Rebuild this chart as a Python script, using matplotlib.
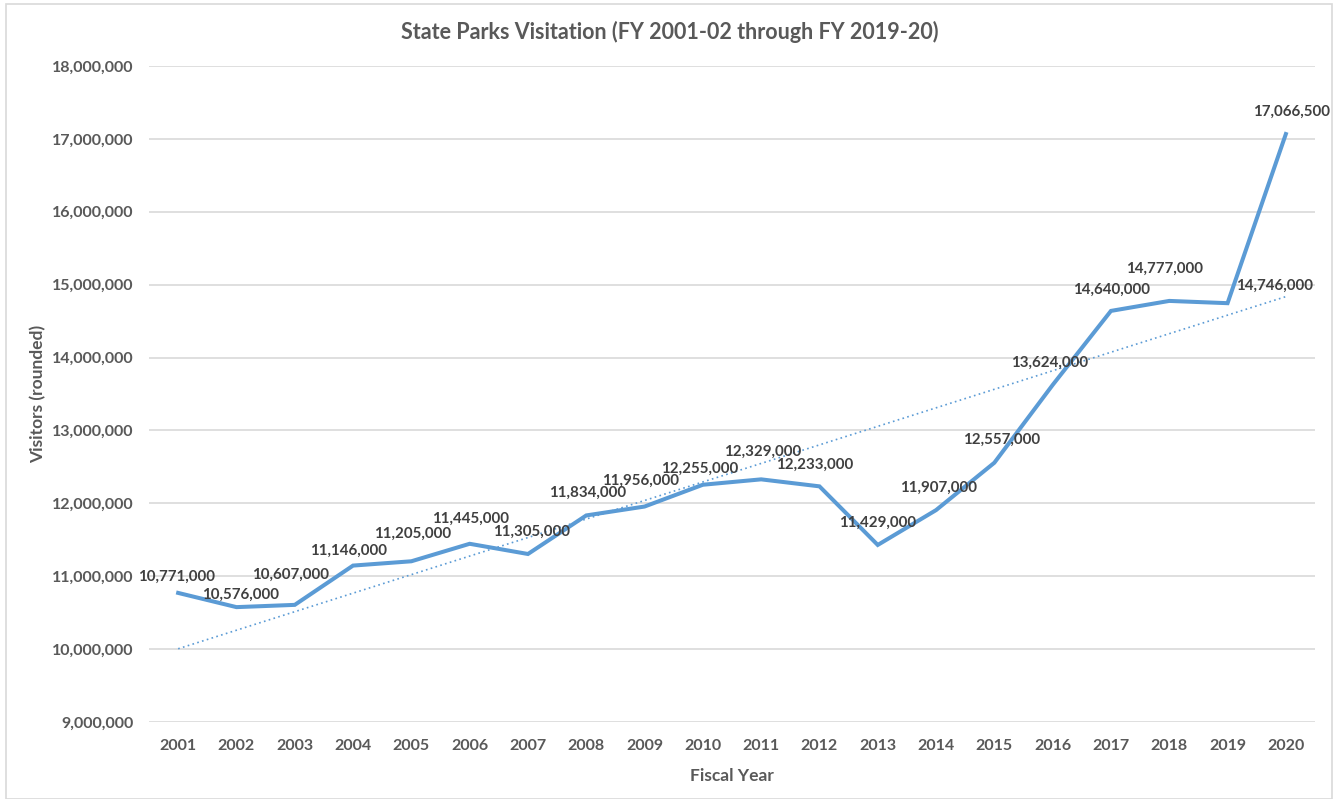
import numpy as np
import matplotlib as mpl
mpl.use('Agg')
import matplotlib.pyplot as plt
from matplotlib.ticker import FuncFormatter, MultipleLocator
from matplotlib.patches import Rectangle

# ── data ──────────────────────────────────────────────────────────────
years = [2001, 2002, 2003, 2004, 2005, 2006, 2007, 2008, 2009, 2010,
         2011, 2012, 2013, 2014, 2015, 2016, 2017, 2018, 2019, 2020]
visitors = [10771000, 10576000, 10607000, 11146000, 11205000, 11445000,
            11305000, 11834000, 11956000, 12255000, 12329000, 12233000,
            11429000, 11907000, 12557000, 13624000, 14640000, 14777000,
            14746000, 17066500]

title = 'State Parks Visitation (FY 2001-02 through FY 2019-20)'
xlabel = 'Fiscal Year'
ylabel = 'Visitors (rounded)'

# label offsets from the point, in pixels (dx right, dy up)
label_offsets = [(-2, 16), (4, 12), (-4, 30), (-5, 15), (1, 27), (1, 25),
                 (4, 22), (1, 23), (-4, 26), (-3, 16), (2, 28), (-5, 22),
                 (0, 22), (2, 22), (7, 23), (-3, 22), (1, 21), (-5, 32),
                 (47, 17), (6, 22)]

# ── style ─────────────────────────────────────────────────────────────
plt.rcParams['font.family'] = ['Lato', 'DejaVu Sans']
txt_color = '#595959'
line_color = '#5B9BD5'
grid_color = '#D9D9D9'

fig = plt.figure(figsize=(13.43, 7.99), dpi=100)
ax = fig.add_axes([149 / 1343, 1 - 722 / 799, (1315 - 149) / 1343, (722 - 66) / 799])

ax.plot(years, visitors, color=line_color, lw=2.9, solid_joinstyle='miter', zorder=3)

# linear trendline fitted to the data (as Excel does)
coef = np.polyfit(years, visitors, 1)
ax.plot(years, np.polyval(coef, years), color=line_color, lw=1.2,
        ls=(0, (1, 2)), zorder=2)

px = 72 / 100
for x, y, (dx, dy) in zip(years, visitors, label_offsets):
    ax.annotate(f'{y:,}', (x, y), xytext=(dx * px, dy * px),
                textcoords='offset points', ha='center', va='center',
                fontsize=10.9, fontweight='bold', color='#404040', zorder=4)

ax.set_xlim(2000.5, 2020.5)
ax.set_ylim(9000000, 18000000)
ax.yaxis.set_major_locator(MultipleLocator(1000000))
ax.yaxis.set_major_formatter(FuncFormatter(lambda v, p: f'{int(v):,}'))
ax.set_xticks(years)
ax.grid(axis='y', color=grid_color, lw=1.2)
ax.set_axisbelow(True)
for s in ax.spines.values():
    s.set_visible(False)
ax.tick_params(length=0, labelsize=11.5, labelcolor=txt_color, pad=12)
ax.tick_params(axis='y', pad=11)
for lab in ax.get_xticklabels() + ax.get_yticklabels():
    lab.set_fontweight('bold')

ax.set_xlabel(xlabel, fontsize=12.5, fontweight='bold', color=txt_color, labelpad=11)
ax.set_ylabel(ylabel, fontsize=12.5, fontweight='bold', color=txt_color, labelpad=4)
fig.text(670 / 1343, 1 - 32 / 799, title, ha='center', va='center',
         fontsize=15.5, fontweight='bold', color=txt_color)

# thin chart-area border
fig.patches.append(Rectangle((6 / 1343, 0), 1326 / 1343, 1 - 4 / 799,
                             transform=fig.transFigure, fill=False,
                             ec=grid_color, lw=1.2))

fig.savefig('out.png', dpi=100)
